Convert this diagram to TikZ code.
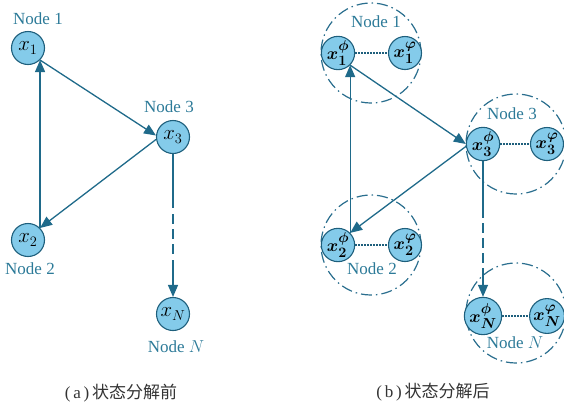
\documentclass[tikz,border=0pt]{standalone}
\usepackage{amsmath}
\usepackage[no-math]{fontspec}
\setmainfont{Liberation Serif}
\newfontfamily\cjkfont{Noto Sans CJK SC}
\usetikzlibrary{arrows.meta}
\definecolor{nfill}{HTML}{84CBEA}
\definecolor{nborder}{HTML}{1E5F7C}
\definecolor{arrcol}{HTML}{1F6A8A}
\definecolor{labcol}{HTML}{2C7A98}
\definecolor{grpcol}{HTML}{2A6E8E}
\definecolor{capcol}{HTML}{333333}
\begin{document}
\begin{tikzpicture}[x=1pt,y=-1pt,
  st/.style={circle, draw=nborder, fill=nfill, line width=1.1pt, minimum size=33pt, inner sep=0pt, font=\fontsize{21}{23}\selectfont},
  stb/.style={st, font=\fontsize{19}{21}\selectfont},
  lab/.style={text=labcol, font=\fontsize{17}{19}\selectfont, inner sep=0pt},
  grp/.style={circle, draw=grpcol, line width=1.2pt, dash pattern=on 11pt off 4pt on 1.5pt off 4pt, minimum size=100pt, inner sep=0pt},
  arr/.style={draw=arrcol, line width=1.3pt, -{Triangle[length=12pt,width=10pt]}},
  link/.style={draw=nborder, line width=1.1pt, dash pattern=on 1.5pt off 1.5pt},
  captxt/.style={text=capcol, font=\fontsize{17}{19}\selectfont, inner sep=0pt}
]
\useasboundingbox (0,0) rectangle (564,408);

% ---------- (a) ----------
\node[st] (a1) at (28,48) {$x_1$};
\node[st] (a3) at (173,137) {$x_3$};
\node[st] (a2) at (28,240) {$x_2$};
\node[st] (aN) at (173,314) {$x_N$};
\node[lab] (la1) at (38,19) {Node 1};
\node[lab] (la3) at (169,107) {Node 3};
\node[lab] (la2) at (30,269) {Node 2};
\node[lab] (laN) at (176,347) {Node $N$};
\draw[arr] (a2.45) -- (a1.-45);
\draw[arr] (a1.-45) -- (a3.175);
\draw[arr] (a3.188) -- (a2.45);
\draw[arr, dash pattern=on 54pt off 6pt on 10pt off 5pt on 10pt off 5pt on 10pt off 6pt on 200pt] (a3.south) -- (aN.north);
\node[captxt] (ca) at (121,393) {(\,a\,)\,{\cjkfont 状态分解前}};

% ---------- (b) ----------
\node[grp] (g1) at (371,53) {};
\node[grp] (g3) at (516,144) {};
\node[grp] (g2) at (371,245) {};
\node[grp] (gN) at (516,313) {};
\node[stb] (b1p) at (338,53) {$\boldsymbol{x_1^{\phi}}$};
\node[stb] (b1v) at (405,53) {$\boldsymbol{x_1^{\varphi}}$};
\node[stb] (b3p) at (483,144) {$\boldsymbol{x_3^{\phi}}$};
\node[stb] (b3v) at (547,144) {$\boldsymbol{x_3^{\varphi}}$};
\node[stb] (b2p) at (338,245) {$\boldsymbol{x_2^{\phi}}$};
\node[stb] (b2v) at (405,245) {$\boldsymbol{x_2^{\varphi}}$};
\node[stb] (bNp) at (483,316) {$\boldsymbol{x_N^{\phi}}$};
\node[stb] (bNv) at (547,316) {$\boldsymbol{x_N^{\varphi}}$};
\draw[link] (b1p) -- (b1v);
\draw[link] (b3p) -- (b3v);
\draw[link] (b2p) -- (b2v);
\draw[link] (bNp) -- (bNv);
\node[lab] (lb1) at (376,22) {Node 1};
\node[lab] (lb3) at (512,114) {Node 3};
\node[lab] (lb2) at (372,269) {Node 2};
\node[lab] (lbN) at (515,343) {Node $N$};
\draw[arr] (b2p.45) -- (b1p.-45);
\draw[arr] (b1p.-45) -- (b3p.west);
\draw[arr] (b3p.188) -- (b2p.45);
\draw[arr, dash pattern=on 57pt off 5pt on 10pt off 5pt on 10pt off 5pt on 10pt off 5pt on 200pt] (b3p.south) -- (bNp.north);
\node[captxt] (cb) at (433,392) {(\,b\,)\,{\cjkfont 状态分解后}};
\end{tikzpicture}
\end{document}
